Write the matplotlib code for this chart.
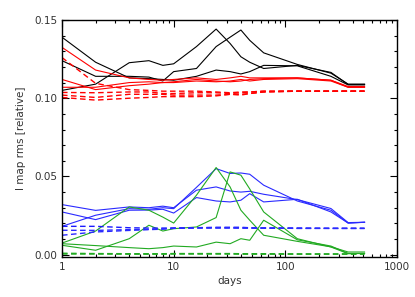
import numpy as np
import matplotlib
matplotlib.use('Agg')
import matplotlib.pyplot as plt
from matplotlib.ticker import LogLocator, MultipleLocator, FixedLocator, NullFormatter

# dias de observacion
days = [1, 2, 4, 6, 8, 10, 16, 24, 32, 40, 48, 64, 128, 256, 365, 512]

# negro (solidas)
black_1 = [0.139, 0.123, 0.113, 0.1125, 0.112, 0.1115, 0.114, 0.118, 0.117, 0.1155, 0.117, 0.121, 0.1207, 0.114, 0.1085, 0.1085]
black_2 = [0.124, 0.114, 0.114, 0.1135, 0.111, 0.117, 0.119, 0.133, 0.139, 0.1436, 0.137, 0.129, 0.1216, 0.116, 0.109, 0.109]
black_3 = [0.105, 0.109, 0.1227, 0.124, 0.121, 0.122, 0.133, 0.1442, 0.135, 0.1265, 0.123, 0.119, 0.121, 0.1165, 0.1088, 0.1088]

# rojo
red_1 = [0.1325, 0.118, 0.113, 0.112, 0.1115, 0.112, 0.113, 0.112, 0.113, 0.114, 0.113, 0.113, 0.113, 0.1115, 0.1075, 0.1075]
red_2 = [0.112, 0.1055, 0.108, 0.109, 0.110, 0.110, 0.111, 0.1105, 0.111, 0.112, 0.111, 0.112, 0.1125, 0.111, 0.107, 0.107]
red_3 = [0.107, 0.107, 0.110, 0.1105, 0.110, 0.1105, 0.112, 0.111, 0.1105, 0.111, 0.112, 0.1125, 0.113, 0.1115, 0.107, 0.107]
red_d1 = [0.126, 0.1095, 0.1055, 0.105, 0.1045, 0.1045, 0.1045, 0.104, 0.1035, 0.104, 0.104, 0.1045, 0.1045, 0.1045, 0.1045, 0.1045]
red_d2 = [0.1037, 0.1035, 0.104, 0.104, 0.103, 0.103, 0.1035, 0.1035, 0.103, 0.1035, 0.104, 0.1045, 0.1045, 0.1045, 0.1045, 0.1045]
red_d3 = [0.102, 0.1005, 0.1025, 0.1025, 0.1025, 0.102, 0.102, 0.102, 0.1025, 0.102, 0.103, 0.104, 0.1045, 0.1045, 0.1045, 0.1045]
red_d4 = [0.1005, 0.0988, 0.100, 0.1005, 0.101, 0.101, 0.101, 0.1015, 0.1025, 0.1025, 0.103, 0.104, 0.1045, 0.1045, 0.1045, 0.1045]

# azul
blue_1 = [0.0181, 0.0252, 0.0294, 0.029, 0.030, 0.0294, 0.043, 0.055, 0.0519, 0.0522, 0.0514, 0.0444, 0.0343, 0.0284, 0.0202, 0.0207]
blue_2 = [0.032, 0.0283, 0.0305, 0.030, 0.031, 0.030, 0.0412, 0.0433, 0.0407, 0.040, 0.0405, 0.0386, 0.0352, 0.0295, 0.0205, 0.0207]
blue_3 = [0.0273, 0.0224, 0.0284, 0.0285, 0.029, 0.0266, 0.0365, 0.0343, 0.0337, 0.0348, 0.039, 0.0337, 0.0354, 0.0273, 0.0202, 0.0207]
blue_d1 = [0.0181, 0.0181, 0.0172, 0.017, 0.017, 0.017, 0.0172, 0.0175, 0.0175, 0.0175, 0.0172, 0.017, 0.017, 0.0168, 0.0168, 0.0168]
blue_d2 = [0.0156, 0.0155, 0.016, 0.0162, 0.0165, 0.017, 0.0172, 0.0172, 0.0172, 0.017, 0.017, 0.017, 0.0168, 0.0168, 0.0168, 0.0168]
blue_d3 = [0.0124, 0.0145, 0.0155, 0.016, 0.0163, 0.0168, 0.017, 0.017, 0.017, 0.017, 0.017, 0.017, 0.0168, 0.0168, 0.0168, 0.0168]

# verde
green_1 = [0.0074, 0.0151, 0.0305, 0.0284, 0.024, 0.0202, 0.038, 0.0557, 0.0433, 0.0284, 0.022, 0.0124, 0.0085, 0.005, 0.0017, 0.0017]
green_2 = [0.006, 0.0028, 0.0102, 0.0188, 0.0151, 0.0166, 0.0177, 0.0237, 0.0529, 0.0508, 0.042, 0.0273, 0.0102, 0.0049, 0.0006, 0.0008]
green_3 = [0.007, 0.0058, 0.0045, 0.0038, 0.0045, 0.0055, 0.0049, 0.008, 0.007, 0.0102, 0.0092, 0.022, 0.0095, 0.0055, 0.0008, 0.0008]
green_d1 = [0.0009, 0.0007, 0.0006, 0.0006, 0.0006, 0.0007, 0.0007, 0.0007, 0.0007, 0.0006, 0.0006, 0.0006, 0.0005, 0.0005, 0.0005, 0.0005]
green_d2 = [0.0004, 0.0004, 0.0003, 0.0003, 0.0003, 0.0004, 0.0004, 0.0004, 0.0004, 0.0003, 0.0003, 0.0003, 0.0003, 0.0003, 0.0003, 0.0003]

solid = [(black_1, 'k'), (black_2, 'k'), (black_3, 'k'),
         (red_1, 'red'), (red_2, 'red'), (red_3, 'red'),
         (blue_1, '#2a2aff'), (blue_2, '#2a2aff'), (blue_3, '#2a2aff'),
         (green_1, '#22aa22'), (green_2, '#22aa22'), (green_3, '#22aa22')]
dashed = [(red_d1, 'red'), (red_d2, 'red'), (red_d3, 'red'), (red_d4, 'red'),
          (blue_d1, '#1a1aff'), (blue_d2, '#2a2aff'), (blue_d3, '#2a2aff'),
          (green_d1, '#22aa22'), (green_d2, '#22aa22')]

fig = plt.figure(figsize=(4.15, 2.97), dpi=100)
ax = fig.add_axes([62/415, 1 - 257/297, (397-62)/415, (257-20)/297])

for vals, c in solid:
    ax.plot(days, vals, color=c, lw=0.8)
for vals, c in dashed:
    ax.plot(days, vals, color=c, lw=1.0, linestyle=(0, (4, 2.5)))

ax.set_xscale('log')
ax.set_xlim(1, 1000)
ax.set_ylim(-0.0015, 0.15)

ax.xaxis.set_major_locator(FixedLocator([1, 10, 100, 1000]))
ax.xaxis.set_minor_locator(LogLocator(base=10, subs=np.arange(2, 10)))
ax.xaxis.set_minor_formatter(NullFormatter())
ax.set_xticklabels(['1', '10', '100', '1000'])
ax.yaxis.set_major_locator(FixedLocator([0.0, 0.05, 0.10, 0.15]))
ax.yaxis.set_minor_locator(MultipleLocator(0.01))
ax.set_yticklabels(['0.00', '0.05', '0.10', '0.15'])

ax.tick_params(which='both', direction='in', top=True, right=True,
               colors='k', labelcolor='#333333', labelsize=7.5, width=0.8)
ax.tick_params(which='major', length=4.8, pad=3.5)
ax.tick_params(which='minor', length=2.4)
for s in ax.spines.values():
    s.set_linewidth(1.0)

ax.set_xlabel('days', fontsize=7.5, color='#333333', labelpad=3)
ax.set_ylabel('I map rms [relative]', fontsize=7.5, color='#333333', labelpad=6)

plt.savefig('out.png', dpi=100)
